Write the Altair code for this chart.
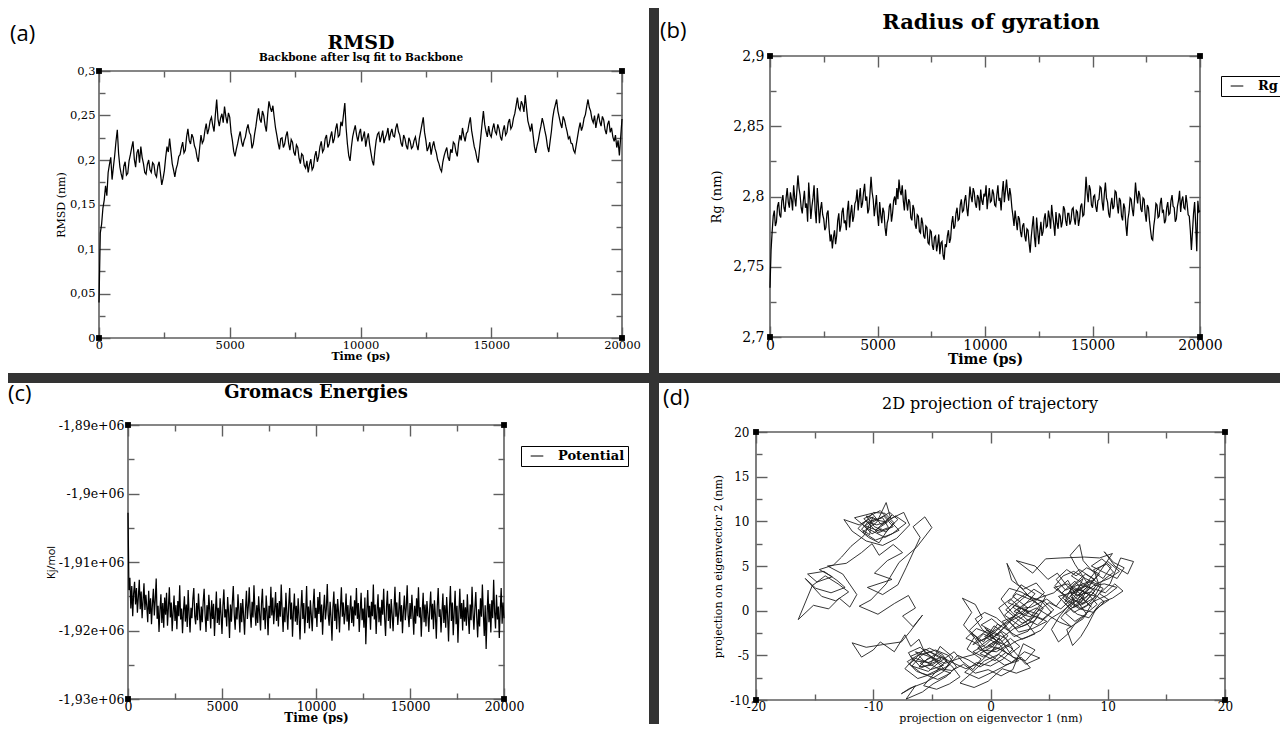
import altair as alt
import pandas as pd

SERIF = "DejaVu Serif"
SANS = "Open Sans"
FRAME = "#5f5f5f"
BAR = "#333333"
W, H = 1272, 716

# ---------------- data ----------------
rmsd_step_ps = 50
rmsd_nm = [
    0.040, 0.118, 0.128, 0.146, 0.155, 0.171, 0.160, 0.186, 0.195, 0.203, 0.178, 0.192, 0.205, 0.221, 0.234, 0.207, 0.192, 0.184, 0.178, 0.193,
    0.198, 0.183, 0.185, 0.199, 0.206, 0.214, 0.221, 0.201, 0.192, 0.208, 0.212, 0.197, 0.215, 0.203, 0.196, 0.186, 0.184, 0.195, 0.200, 0.189,
    0.186, 0.197, 0.195, 0.184, 0.181, 0.193, 0.198, 0.185, 0.172, 0.179, 0.188, 0.203, 0.215, 0.209, 0.224, 0.210, 0.196, 0.189, 0.181, 0.190,
    0.195, 0.204, 0.206, 0.214, 0.220, 0.208, 0.211, 0.226, 0.235, 0.222, 0.218, 0.229, 0.225, 0.216, 0.212, 0.203, 0.198, 0.214, 0.228, 0.219,
    0.222, 0.233, 0.241, 0.229, 0.235, 0.244, 0.248, 0.239, 0.232, 0.251, 0.268, 0.246, 0.238, 0.247, 0.252, 0.242, 0.260, 0.249, 0.241, 0.253,
    0.248, 0.231, 0.222, 0.210, 0.204, 0.212, 0.218, 0.226, 0.232, 0.221, 0.215, 0.222, 0.226, 0.235, 0.240, 0.231, 0.228, 0.213, 0.218, 0.229,
    0.238, 0.249, 0.258, 0.246, 0.242, 0.255, 0.250, 0.239, 0.232, 0.251, 0.266, 0.259, 0.254, 0.261, 0.248, 0.236, 0.228, 0.219, 0.212, 0.224,
    0.225, 0.214, 0.218, 0.227, 0.232, 0.219, 0.211, 0.223, 0.220, 0.209, 0.205, 0.217, 0.214, 0.202, 0.196, 0.207, 0.205, 0.194, 0.191, 0.199,
    0.186, 0.195, 0.201, 0.189, 0.192, 0.204, 0.210, 0.198, 0.204, 0.215, 0.221, 0.209, 0.212, 0.224, 0.228, 0.214, 0.218, 0.226, 0.232, 0.219,
    0.224, 0.235, 0.241, 0.226, 0.228, 0.243, 0.238, 0.251, 0.264, 0.236, 0.218, 0.205, 0.199, 0.214, 0.226, 0.233, 0.239, 0.228, 0.221, 0.230,
    0.235, 0.221, 0.226, 0.232, 0.215, 0.224, 0.230, 0.217, 0.208, 0.199, 0.194, 0.210, 0.222, 0.229, 0.231, 0.220, 0.226, 0.233, 0.219, 0.225,
    0.229, 0.236, 0.222, 0.230, 0.235, 0.227, 0.226, 0.236, 0.241, 0.232, 0.228, 0.219, 0.215, 0.228, 0.224, 0.216, 0.212, 0.225, 0.221, 0.213,
    0.215, 0.222, 0.226, 0.217, 0.211, 0.224, 0.232, 0.240, 0.248, 0.231, 0.222, 0.210, 0.214, 0.220, 0.206, 0.215, 0.221, 0.213, 0.208, 0.200,
    0.196, 0.190, 0.187, 0.198, 0.205, 0.210, 0.214, 0.203, 0.199, 0.212, 0.208, 0.220, 0.218, 0.209, 0.204, 0.219, 0.228, 0.222, 0.236, 0.227,
    0.221, 0.230, 0.232, 0.241, 0.248, 0.233, 0.224, 0.215, 0.210, 0.202, 0.197, 0.212, 0.226, 0.241, 0.255, 0.240, 0.232, 0.226, 0.238, 0.229,
    0.226, 0.235, 0.241, 0.232, 0.229, 0.240, 0.235, 0.226, 0.222, 0.233, 0.239, 0.228, 0.231, 0.242, 0.246, 0.235, 0.238, 0.247, 0.252, 0.261,
    0.270, 0.259, 0.256, 0.266, 0.262, 0.254, 0.273, 0.258, 0.244, 0.238, 0.232, 0.241, 0.228, 0.215, 0.208, 0.216, 0.222, 0.231, 0.238, 0.247,
    0.241, 0.233, 0.226, 0.215, 0.209, 0.221, 0.232, 0.247, 0.256, 0.262, 0.268, 0.255, 0.248, 0.241, 0.236, 0.249, 0.245, 0.238, 0.232, 0.224,
    0.226, 0.219, 0.218, 0.211, 0.208, 0.217, 0.226, 0.235, 0.242, 0.233, 0.238, 0.247, 0.251, 0.260, 0.268, 0.259, 0.255, 0.246, 0.242, 0.250,
    0.236, 0.245, 0.252, 0.243, 0.238, 0.249, 0.245, 0.234, 0.229, 0.240, 0.244, 0.231, 0.236, 0.226, 0.221, 0.228, 0.214, 0.222, 0.205, 0.226,
    0.246,
]

rg_step_ps = 50
rg_nm = [
    2.735, 2.762, 2.775, 2.786, 2.790, 2.779, 2.782, 2.793, 2.796, 2.787, 2.785, 2.797, 2.801, 2.792, 2.789, 2.799, 2.806, 2.796, 2.792, 2.803,
    2.798, 2.790, 2.808, 2.799, 2.793, 2.804, 2.815, 2.806, 2.801, 2.792, 2.788, 2.797, 2.804, 2.792, 2.795, 2.782, 2.810, 2.798, 2.784, 2.793,
    2.799, 2.808, 2.790, 2.781, 2.806, 2.794, 2.781, 2.791, 2.796, 2.787, 2.784, 2.776, 2.778, 2.788, 2.790, 2.777, 2.768, 2.773, 2.763, 2.771,
    2.776, 2.766, 2.772, 2.783, 2.788, 2.775, 2.779, 2.789, 2.792, 2.781, 2.783, 2.776, 2.790, 2.797, 2.778, 2.788, 2.794, 2.782, 2.786, 2.795,
    2.797, 2.805, 2.790, 2.799, 2.806, 2.792, 2.795, 2.803, 2.809, 2.797, 2.800, 2.788, 2.791, 2.802, 2.814, 2.803, 2.798, 2.786, 2.793, 2.801,
    2.787, 2.779, 2.796, 2.787, 2.781, 2.792, 2.789, 2.778, 2.772, 2.781, 2.784, 2.793, 2.795, 2.782, 2.788, 2.797, 2.800, 2.794, 2.806, 2.798,
    2.812, 2.804, 2.801, 2.808, 2.797, 2.790, 2.805, 2.796, 2.790, 2.798, 2.796, 2.785, 2.783, 2.794, 2.791, 2.780, 2.777, 2.787, 2.786, 2.775,
    2.774, 2.785, 2.781, 2.772, 2.770, 2.779, 2.778, 2.767, 2.766, 2.776, 2.775, 2.765, 2.762, 2.771, 2.772, 2.761, 2.766, 2.773, 2.759, 2.767,
    2.768, 2.758, 2.755, 2.766, 2.764, 2.772, 2.776, 2.767, 2.770, 2.781, 2.786, 2.777, 2.779, 2.788, 2.792, 2.783, 2.784, 2.794, 2.798, 2.789,
    2.790, 2.797, 2.801, 2.792, 2.786, 2.796, 2.807, 2.800, 2.796, 2.806, 2.803, 2.795, 2.792, 2.801, 2.799, 2.790, 2.805, 2.797, 2.794, 2.802,
    2.800, 2.808, 2.791, 2.799, 2.806, 2.796, 2.797, 2.805, 2.802, 2.794, 2.793, 2.801, 2.808, 2.797, 2.799, 2.790, 2.803, 2.811, 2.796, 2.804,
    2.812, 2.803, 2.797, 2.806, 2.801, 2.792, 2.786, 2.779, 2.790, 2.783, 2.776, 2.786, 2.784, 2.775, 2.771, 2.779, 2.781, 2.772, 2.768, 2.777,
    2.776, 2.767, 2.760, 2.771, 2.779, 2.786, 2.771, 2.764, 2.785, 2.776, 2.766, 2.775, 2.782, 2.772, 2.775, 2.784, 2.788, 2.778, 2.779, 2.790,
    2.785, 2.777, 2.794, 2.786, 2.780, 2.772, 2.789, 2.781, 2.777, 2.788, 2.786, 2.778, 2.782, 2.793, 2.791, 2.783, 2.779, 2.788, 2.788, 2.780,
    2.783, 2.791, 2.792, 2.784, 2.780, 2.790, 2.789, 2.779, 2.784, 2.793, 2.795, 2.786, 2.787, 2.799, 2.814, 2.803, 2.796, 2.808, 2.805, 2.794,
    2.792, 2.800, 2.801, 2.793, 2.789, 2.797, 2.798, 2.807, 2.806, 2.796, 2.790, 2.802, 2.810, 2.799, 2.796, 2.788, 2.785, 2.794, 2.799, 2.791,
    2.793, 2.804, 2.803, 2.794, 2.788, 2.799, 2.797, 2.786, 2.783, 2.795, 2.792, 2.780, 2.772, 2.784, 2.789, 2.799, 2.798, 2.791, 2.786, 2.797,
    2.810, 2.801, 2.795, 2.804, 2.801, 2.791, 2.789, 2.799, 2.798, 2.788, 2.782, 2.794, 2.792, 2.783, 2.776, 2.770, 2.769, 2.779, 2.785, 2.795,
    2.794, 2.785, 2.786, 2.795, 2.799, 2.789, 2.790, 2.781, 2.783, 2.792, 2.796, 2.787, 2.788, 2.797, 2.801, 2.793, 2.792, 2.782, 2.784, 2.793,
    2.797, 2.804, 2.789, 2.797, 2.800, 2.792, 2.791, 2.801, 2.795, 2.787, 2.786, 2.776, 2.762, 2.775, 2.788, 2.796, 2.780, 2.761, 2.797, 2.789,
    2.790,
]

pot_step_ps = 50
potential_kj_mol = [
    -1902800, -1914100, -1912300, -1916800, -1913500, -1917900, -1914600, -1912900, -1916200, -1913800,
    -1917400, -1915100, -1912600, -1916900, -1914300, -1918200, -1915600, -1913100, -1917000, -1914800,
    -1916500, -1918800, -1914200, -1917600, -1915300, -1919100, -1916100, -1913900, -1917800, -1915500,
    -1912400, -1918300, -1916400, -1920200, -1917100, -1914700, -1918900, -1916000, -1919600, -1915200,
    -1917700, -1914500, -1919300, -1916600, -1913700, -1918100, -1915900, -1920100, -1917300, -1914900,
    -1918600, -1916300, -1919800, -1915700, -1917900, -1913400, -1918400, -1916800, -1920400, -1917200,
    -1915000, -1918700, -1916200, -1919500, -1914100, -1917600, -1920300, -1916700, -1918200, -1915400,
    -1913800, -1917900, -1919100, -1916000, -1918500, -1914600, -1917300, -1920000, -1916500, -1918800,
    -1915800, -1913900, -1917700, -1920200, -1916300, -1918600, -1914800, -1917100, -1919700, -1915600,
    -1918300, -1916100, -1920800, -1917400, -1914300, -1918900, -1916700, -1919200, -1915300, -1917800,
    -1920500, -1916400, -1914000, -1918100, -1916900, -1919400, -1915100, -1917500, -1921100, -1916200,
    -1918700, -1915900, -1913500, -1917600, -1919900, -1916600, -1918400, -1914700, -1917200, -1920300,
    -1916000, -1918800, -1915400, -1917900, -1920600, -1916800, -1914200, -1918300, -1916500, -1913700,
    -1917400, -1919600, -1915800, -1918100, -1913400, -1917000, -1919300, -1916300, -1918900, -1915000,
    -1917600, -1920000, -1916100, -1913900, -1918500, -1916700, -1919800, -1914900, -1917300, -1920700,
    -1916400, -1918200, -1913600, -1917800, -1915200, -1919100, -1916900, -1914400, -1918600, -1916000,
    -1919400, -1915700, -1918000, -1913300, -1917100, -1920200, -1916600, -1918800, -1914500, -1917500,
    -1919900, -1916200, -1913800, -1918400, -1915900, -1920900, -1917200, -1914600, -1918700, -1916400,
    -1919200, -1915300, -1917900, -1921300, -1916800, -1914100, -1918300, -1916000, -1920400, -1917400,
    -1913500, -1918900, -1916500, -1919700, -1915600, -1917800, -1920100, -1916300, -1913900, -1918200,
    -1916700, -1919500, -1915100, -1917600, -1914400, -1918800, -1916200, -1920600, -1917000, -1914800,
    -1918400, -1916900, -1913200, -1917700, -1919300, -1915800, -1918100, -1921500, -1916600, -1914300,
    -1918600, -1916100, -1919800, -1915400, -1917300, -1920300, -1916700, -1913700, -1918000, -1915900,
    -1919100, -1917500, -1914600, -1918700, -1916300, -1920000, -1917100, -1914900, -1918900, -1916500,
    -1919400, -1915600, -1917800, -1913800, -1918300, -1916000, -1920200, -1917200, -1914500, -1918500,
    -1916800, -1919600, -1915200, -1922000, -1917400, -1914100, -1918100, -1916400, -1919900, -1915800,
    -1917900, -1913300, -1918400, -1916200, -1920500, -1917000, -1914700, -1918800, -1916600, -1919300,
    -1915500, -1917700, -1913900, -1918200, -1920800, -1916500, -1914200, -1918600, -1916100, -1919700,
    -1915400, -1917600, -1920100, -1916900, -1913600, -1918000, -1915900, -1919200, -1917300, -1914400,
    -1918700, -1916300, -1920400, -1917100, -1914900, -1918500, -1916700, -1913400, -1917800, -1919500,
    -1916000, -1918300, -1914800, -1917500, -1920600, -1916400, -1919000, -1915300, -1917900, -1913700,
    -1918100, -1916600, -1920900, -1917200, -1914500, -1918800, -1916200, -1919400, -1915700, -1917600,
    -1920200, -1916800, -1914300, -1918400, -1916100, -1919800, -1915600, -1917700, -1921200, -1916500,
    -1913800, -1918000, -1916900, -1920300, -1917400, -1914600, -1918900, -1916300, -1919600, -1915100,
    -1917800, -1921600, -1916700, -1913500, -1918600, -1915900, -1920700, -1917300, -1914200, -1919100,
    -1916400, -1921800, -1917600, -1913900, -1918300, -1916000, -1920000, -1915500, -1918700, -1916600,
    -1919300, -1914700, -1917900, -1920500, -1916200, -1918500, -1913600, -1917400, -1919900, -1916800,
    -1914400, -1918100, -1921000, -1916900, -1919400, -1915300, -1918000, -1913300, -1917500, -1920800,
    -1916300, -1922700, -1917700, -1914100, -1918800, -1916100, -1920300, -1915600, -1918200, -1912600,
    -1917300, -1919700, -1914800, -1918400, -1916500, -1921100, -1917000, -1913800, -1919000, -1915900,
    -1918200,
]

# (projection on eigenvector 1, projection on eigenvector 2), in frame order
trajectory_nm = [
    (-9.3, 9.2), (-10.1, 8.6), (-10.9, 9.6), (-10.0, 11.0), (-9.0, 10.9), (-8.2, 9.8), (-8.9, 8.8), (-9.9, 9.4), (-10.6, 10.6), (-9.6, 10.2),
    (-8.6, 11.0), (-7.9, 10.2), (-8.7, 9.2), (-9.5, 7.6), (-10.4, 8.2), (-11.3, 9.2), (-10.7, 10.0), (-9.7, 9.6), (-9.0, 9.9), (-8.4, 10.7),
    (-9.8, 9.0), (-8.8, 9.9), (-9.9, 10.2), (-10.7, 9.5), (-9.5, 8.9), (-8.7, 9.3), (-9.2, 10.4), (-10.4, 10.0), (-11.0, 9.1), (-10.3, 8.5),
    (-10.2, 9.8), (-9.1, 10.6), (-8.3, 9.4), (-9.6, 8.7), (-10.8, 10.3), (-9.4, 11.2), (-8.6, 10.1), (-7.8, 9.0), (-9.0, 8.2), (-10.5, 9.2),
    (-11.6, 10.4), (-10.1, 10.9), (-9.3, 9.6), (-8.1, 10.6), (-7.2, 9.8), (-8.4, 8.6), (-9.8, 7.9), (-10.9, 8.8), (-9.7, 9.9), (-8.9, 12.1),
    (-8.5, 10.3), (-7.4, 11.0), (-6.9, 9.6), (-8.0, 8.1), (-9.2, 7.3), (-10.6, 7.8), (-11.8, 8.9), (-12.5, 10.2), (-11.2, 9.6), (-10.0, 10.5),
    (-10.8, 8.4), (-11.9, 7.2), (-12.7, 6.0), (-13.4, 5.1), (-14.6, 4.6), (-13.5, 3.8), (-14.8, 3.2), (-15.6, 4.1), (-14.2, 4.4), (-13.1, 3.4),
    (-12.4, 2.6), (-13.6, 2.0), (-14.9, 2.5), (-15.8, 3.6), (-14.4, 1.6), (-13.2, 1.1), (-12.1, 2.1), (-13.0, 3.0), (-14.1, 3.9), (-15.2, 2.8),
    (-16.4, -1.0), (-15.1, 0.6), (-13.8, 0.2), (-12.9, 1.4), (-12.0, 0.4), (-11.4, 1.8), (-12.6, 4.1), (-13.9, 5.0), (-12.3, 5.3), (-11.0, 6.5),
    (-10.1, 7.5), (-9.5, 6.2), (-8.3, 7.4), (-7.5, 6.5), (-8.8, 5.6), (-9.9, 4.2), (-8.4, 3.5), (-10.5, 2.6), (-9.2, 1.8), (-7.9, 2.9),
    (-7.2, 4.8), (-6.5, 6.8), (-6.0, 8.2), (-6.6, 9.4), (-5.6, 10.5), (-5.0, 9.3), (-6.3, 7.1), (-7.8, 5.4), (-8.9, 3.0), (-10.2, 1.2),
    (-11.2, 0.5), (-9.6, -0.4), (-8.2, 0.8), (-7.0, 1.7), (-6.4, 0.3), (-7.5, -0.6), (-6.6, -1.8), (-5.8, -0.5), (-6.9, -2.4), (-7.6, -3.5),
    (-9.2, -3.8), (-10.6, -4.1), (-11.8, -3.6), (-11.0, -5.2), (-10.0, -4.4), (-9.4, -3.5), (-8.2, -4.6), (-7.3, -2.7), (-6.8, -4.0), (-6.1, -3.2),
    (-5.6, -4.7), (-4.5, -5.6), (-5.9, -6.4), (-6.8, -5.1), (-5.2, -4.2), (-4.1, -4.9), (-3.5, -6.1), (-4.8, -7.0), (-6.2, -7.6), (-7.3, -6.5),
    (-6.5, -5.3), (-5.1, -5.9), (-4.3, -4.0), (-3.2, -5.2), (-4.0, -6.8), (-5.5, -8.0), (-6.9, -8.7), (-7.6, -9.3), (-6.4, -8.4), (-7.2, -9.9),
    (-5.8, -9.1), (-4.9, -8.2), (-3.8, -7.4), (-2.9, -6.3), (-3.6, -5.0), (-4.7, -4.4), (-5.9, -5.0), (-6.7, -6.2), (-5.3, -6.8), (-4.4, -5.8),
    (-3.1, -4.6), (-2.4, -5.7), (-1.5, -6.6), (-0.8, -5.4), (-2.0, -4.3), (-1.4, -3.0), (-2.3, -1.6), (-1.6, -0.2), (-2.4, 1.4), (-1.3, 0.7),
    (-0.7, -0.8), (-1.8, -2.2), (-0.9, -3.4), (0.2, -2.6), (-0.5, -1.9),
    (0.6, -3.5), (-0.4, -4.2), (-1.2, -3.1), (-0.3, -2.2), (0.8, -2.9), (0.2, -4.0), (-0.9, -4.8), (0.4, -5.6), (1.3, -4.7), (0.5, -3.3),
    (-0.6, -2.6), (-1.5, -3.8), (-0.2, -3.0), (0.9, -1.8), (0.1, -0.9), (-0.8, -1.6), (0.3, -2.4), (1.4, -3.2), (1.9, -4.3), (1.1, -5.4),
    (0.0, -6.2), (-1.2, -5.8), (-2.2, -6.9), (-1.0, -7.6), (0.3, -6.8), (1.5, -6.0), (2.6, -5.2), (3.4, -6.4), (2.2, -7.0), (1.0, -6.5),
    (-0.2, -7.9), (-1.4, -8.6), (-2.6, -8.1), (-1.8, -7.2), (-0.5, -5.6), (0.7, -4.9), (1.8, -5.8), (2.9, -4.6), (4.2, -5.3), (3.0, -6.0),
    (1.7, -4.1), (0.8, -3.6), (-0.1, -2.8), (0.6, -1.5), (1.5, -2.2),
    (2.4, -1.0), (3.3, -0.2), (2.1, 0.6), (1.2, -0.5), (2.6, -1.8), (3.8, -1.1), (4.5, 0.3), (3.5, 1.2), (2.2, 1.9), (1.5, 0.9),
    (2.9, 0.1), (4.1, -0.4), (3.2, -2.3), (2.0, -2.9), (1.1, -1.6), (2.5, -0.6), (3.6, 0.8), (4.6, 2.0), (3.9, 3.1), (2.8, 2.4),
    (1.8, 3.4), (1.4, 5.3), (2.3, 3.0), (3.3, 1.6), (4.4, 1.0), (5.2, -0.2), (4.0, -1.6), (3.0, -0.9), (2.3, 0.2), (3.5, 0.4),
    (4.8, 1.3), (5.6, 0.5), (6.3, 1.7), (5.4, 2.6), (6.6, 3.0), (7.4, 2.1), (6.8, 0.8), (5.9, -0.6), (5.2, -2.1), (5.8, -3.5),
    (6.6, -2.6), (7.3, -1.3), (8.2, -0.4), (7.5, 0.9), (8.4, 1.8),
    (7.1, 2.6), (6.2, 1.4), (7.0, 0.3), (8.1, 1.0), (8.9, 2.2), (7.8, 3.1), (6.9, 3.9), (7.6, 4.6), (8.6, 3.7), (9.4, 2.8),
    (8.8, 1.4), (7.7, 0.6), (6.8, 1.6), (7.5, 2.4), (8.3, 1.9), (9.1, 0.7), (8.0, -0.5), (7.2, -1.2), (6.4, -0.3), (7.4, 0.8),
    (8.5, 2.6), (7.2, 5.2), (6.8, 6.2), (7.6, 7.4), (7.9, 5.6), (8.7, 4.4), (9.6, 3.6), (10.3, 4.9), (9.5, 5.8), (8.6, 5.0),
    (9.8, 4.2), (10.8, 3.6), (11.4, 4.8), (10.5, 5.4), (9.7, 6.6), (10.6, 5.0), (11.7, 4.1), (12.2, 5.5), (11.1, 5.9), (10.2, 3.0),
    (9.3, 1.9), (10.1, 1.2), (9.0, 0.2), (8.3, -1.6), (7.7, -2.9), (7.0, -3.9), (6.5, -2.1), (7.9, -0.9), (8.7, 0.9), (9.6, 2.5),
    (8.4, 3.2), (7.3, 2.0), (6.5, 2.8), (5.7, 4.2), (4.9, 3.5), (3.8, 5.0), (2.2, 5.6), (3.6, 4.2), (4.7, 5.8), (6.0, 5.9),
    (8.0, 6.0), (9.3, 5.9), (10.4, 6.4), (9.4, 4.5), (8.2, 2.3), (7.4, 1.3), (6.7, 2.2), (7.8, 1.5), (8.6, 0.4), (7.5, 1.8),
    (8.3, 2.7), (7.0, 1.1), (6.1, 2.0), (7.2, 3.3), (8.0, 2.0), (9.0, 1.6), (8.2, 0.6), (7.1, -0.2), (6.3, 0.9), (7.7, 2.9),
    (8.9, 3.5), (8.1, 4.1), (7.0, 2.8), (6.4, 1.2), (7.6, 0.2), (8.8, -0.2), (9.7, 1.0), (8.6, 2.1), (7.3, 1.7), (6.6, 3.4),
    (5.4, 2.0), (4.3, 1.5), (3.1, 0.9), (2.0, -0.1), (3.4, -0.7), (4.2, 0.6), (3.0, 1.9), (2.1, 1.0), (1.3, 0.1), (2.7, -1.4),
    (3.9, -0.6), (4.8, -1.2), (3.6, -2.0), (2.4, -2.4), (1.6, -1.2), (2.8, 0.5), (3.8, 1.9), (2.6, 2.9), (1.9, 1.6), (3.2, 0.3),
    (1.8, -0.8), (0.6, -2.0), (-0.5, -2.9), (0.7, -3.8), (1.5, -2.8), (0.3, -1.7), (-0.6, -3.5), (-1.6, -2.5), (-0.7, -4.4), (0.5, -4.6),
    (1.6, -3.7), (0.9, -2.4), (-0.3, -3.4), (-1.1, -4.2), (0.0, -5.0), (1.2, -6.1), (2.4, -5.6), (1.0, -4.4), (-0.2, -3.9), (0.8, -3.1),
    (-1.4, -4.9), (-2.8, -5.4), (-3.9, -5.9), (-5.0, -5.2), (-6.0, -5.9), (-5.1, -6.6), (-4.0, -6.1), (-5.3, -5.1), (-6.4, -4.6), (-5.7, -5.6),
    (-4.6, -6.4), (-3.4, -7.0), (-4.5, -7.7), (-5.9, -7.0), (-6.9, -6.0), (-5.6, -4.3), (-4.4, -5.1), (-3.1, -5.9), (-2.1, -6.5), (-1.0, -5.9),
    (0.1, -4.5), (1.0, -3.0), (2.0, -2.0), (3.1, -1.2), (4.0, -0.1), (5.0, 0.9), (6.0, 0.2), (6.9, 1.3), (7.9, 0.8), (8.7, 1.9),
    (9.5, 3.3), (10.5, 4.3), (9.9, 5.2), (8.8, 4.6), (9.2, 3.1), (8.1, 1.4), (7.2, 0.4), (6.8, 2.5), (7.9, 3.6), (7.4, 2.2),
    (8.5, 3.0), (9.3, 4.1), (8.2, 4.8), (7.3, 3.9), (6.5, 4.6), (5.6, 3.5), (6.4, 2.3), (7.5, 2.9), (8.7, 2.5), (9.8, 2.0),
    (10.6, 3.0), (11.3, 2.2), (10.4, 1.4), (9.4, 0.9), (8.4, -0.8), (7.4, -0.4), (6.5, 0.6), (5.8, 1.6), (6.9, 2.0), (8.0, 2.8),
    (9.1, 4.6), (10.0, 5.5), (11.0, 4.4), (10.1, 3.6), (9.0, 3.0), (8.1, 3.6), (7.1, 4.4), (6.2, 3.9), (5.5, 2.8), (6.7, 1.1),
    (7.8, 0.2), (8.9, 1.1), (9.9, 1.7), (10.8, 2.6), (9.7, 3.0), (8.8, 2.8), (7.9, 1.9), (6.9, 0.6), (6.0, -0.8), (6.9, -1.8),
    (5.9, -1.3), (4.9, -0.5), (3.9, 0.3), (2.8, -0.4), (1.9, 0.4), (2.7, 1.3), (3.7, 2.4), (4.7, 1.6), (4.1, 0.1), (3.2, -1.5),
    (2.2, -2.0), (1.3, -0.9), (0.7, 0.3), (1.7, 1.3), (2.5, 0.4), (3.5, -0.5), (4.4, -1.0), (5.4, 0.1), (4.6, 1.0), (3.6, 1.4),
    (2.6, 2.1), (1.6, 2.5), (0.9, 1.3), (1.9, -0.3), (2.9, -1.1), (3.8, -2.6), (2.7, -3.2), (1.8, -2.5), (1.0, -1.2), (2.1, -0.6),
    (1.1, -2.0), (0.2, -3.1), (-0.7, -2.1), (-1.3, -0.9), (-0.5, -0.2), (0.5, -0.8), (1.3, -1.7), (0.4, -2.8), (-0.4, -3.8), (-1.5, -4.6),
    (-0.6, -5.2), (0.5, -4.1), (1.6, -4.9), (2.5, -4.0), (1.7, -3.1), (0.8, -4.1), (-0.3, -4.8), (-1.3, -3.6), (-2.1, -3.1), (-1.2, -2.0),
    (-0.2, -2.5), (0.9, -3.3), (1.9, -5.2), (3.0, -5.6), (3.8, -4.4), (2.8, -3.7), (1.9, -6.6), (0.9, -7.3), (-0.2, -6.6), (-1.3, -7.0),
    (-2.3, -6.0), (-3.3, -6.7), (-4.3, -6.5), (-5.4, -7.2), (-6.3, -6.8), (-7.1, -5.7), (-6.2, -5.0), (-5.2, -4.6), (-4.2, -5.4), (-5.0, -6.1),
    (-6.1, -6.3), (-5.4, -5.4), (-4.5, -4.8), (-3.7, -5.5), (-4.7, -6.9), (-5.7, -8.4), (-4.6, -8.8), (-3.5, -8.2), (-2.6, -7.4), (-3.3, -6.2),
    (-4.2, -5.2), (-5.3, -5.8), (-6.6, -5.6), (-7.0, -4.7), (-6.0, -4.1), (-5.1, -5.1), (-3.9, -6.6), (-2.8, -5.0), (-1.9, -5.5), (-0.9, -6.3),
    (0.2, -5.5), (1.2, -4.2), (2.2, -3.4), (3.2, -2.9), (4.3, -2.2), (5.1, -0.9), (6.1, -0.1), (7.0, 0.9), (8.0, 1.5), (7.2, 2.4),
]

# ---------------- tick values ----------------
time_ticks = [0, 5000, 10000, 15000, 20000]
time_minor = [2500, 7500, 12500, 17500]
rmsd_ticks = [0, 0.05, 0.1, 0.15, 0.2, 0.25, 0.3]
rmsd_minor = [0.025, 0.075, 0.125, 0.175, 0.225, 0.275]
rg_ticks = [2.7, 2.75, 2.8, 2.85, 2.9]
rg_minor = [2.725, 2.775, 2.825, 2.875]
pot_ticks = [-1930000, -1920000, -1910000, -1900000, -1890000]
pot_minor = [-1925000, -1915000, -1905000, -1895000]
pc1_ticks = [-20, -10, 0, 10, 20]
pc1_minor = [-15, -5, 5, 15]
pc2_ticks = [-10, -5, 0, 5, 10, 15, 20]
pc2_minor = [-7.5, -2.5, 2.5, 7.5, 12.5, 17.5]

# ---------------- tables ----------------
df_rmsd = pd.DataFrame({"time": [i * rmsd_step_ps for i in range(len(rmsd_nm))], "val": rmsd_nm})
df_rg = pd.DataFrame({"time": [i * rg_step_ps for i in range(len(rg_nm))], "val": rg_nm, "series": "Rg"})
df_pot = pd.DataFrame({"time": [i * pot_step_ps for i in range(len(potential_kj_mol))],
                       "val": potential_kj_mol, "series": "Potential"})
df_traj = pd.DataFrame({"step": list(range(len(trajectory_nm))),
                        "pc1": [p[0] for p in trajectory_nm],
                        "pc2": [p[1] for p in trajectory_nm]})

COMMA = "replace(format(datum.value, '~g'), '.', ',')"
TIME = "format(datum.value, 'd')"
ENERGY = "'-' + replace(replace(format(-datum.value, '~e'), '.', ','), 'e+6', 'e+06')"
SIGNED = "(datum.value < 0 ? '-' : '') + format(abs(datum.value), '~g')"

MAJOR, MINOR = 11, 6


def panel_layers(df, xf, yf, box, xdom, ydom, xt, xm, yt, ym, xexpr, yexpr, lab_size,
                 xtitle, xt_size, xt_weight, ytitle, yt_size, yt_font,
                 line_color="black", line_width=1.0, color=None, order=None,
                 x_title_pad=0, y_title_pad=4, ylab_pad=4):
    x0, x1, y0, y1 = box

    def xs():
        return alt.Scale(domain=xdom, range=[x0, x1], nice=False, zero=False)

    def ys():
        return alt.Scale(domain=ydom, range=[y1, y0], nice=False, zero=False)

    xaxis = alt.Axis(orient="bottom", offset=y1 - H, values=xt, labelExpr=xexpr, ticks=False, tickSize=0,
                     domain=False, grid=False, labelFont=SERIF, labelFontSize=lab_size,
                     labelColor="black", labelPadding=1, labelFlush=False, labelOverlap=False,
                     title=xtitle, titleFont=SERIF, titleFontSize=xt_size, titleFontWeight=xt_weight,
                     titleColor="black", titlePadding=x_title_pad)
    yaxis = alt.Axis(orient="left", offset=-x0, values=yt, labelExpr=yexpr, ticks=False, tickSize=0,
                     domain=False, grid=False, labelFont=SERIF, labelFontSize=lab_size,
                     labelColor="black", labelPadding=ylab_pad, labelOverlap=False,
                     title=ytitle, titleFont=yt_font, titleFontSize=yt_size, titleFontWeight="normal",
                     titleColor="black", titlePadding=y_title_pad)
    enc = dict(x=alt.X(f"{xf}:Q", scale=xs(), axis=xaxis),
               y=alt.Y(f"{yf}:Q", scale=ys(), axis=yaxis))
    if color is not None:
        enc["color"] = color
    if order is not None:
        enc["order"] = order
    line = alt.Chart(df).mark_line(color=line_color, strokeWidth=line_width).encode(**enc)

    def tax(orient, vals, s):
        if orient == "bottom":
            off = y1 - s - H
        elif orient == "top":
            off = -(y0 + s)
        elif orient == "left":
            off = -(x0 + s)
        else:
            off = x1 - s - W
        return alt.Axis(orient=orient, values=vals, tickSize=s, offset=off, labels=False,
                        domain=False, grid=False, title=None, tickColor=FRAME, tickWidth=1.4)

    frame_df = pd.DataFrame({"xa": [xdom[0]], "xb": [xdom[1]], "ya": [ydom[0]], "yb": [ydom[1]]})
    corners = pd.DataFrame({"cx": [xdom[0], xdom[1], xdom[0], xdom[1]],
                            "cy": [ydom[0], ydom[0], ydom[1], ydom[1]]})
    frame = (alt.Chart(frame_df).mark_rect(fillOpacity=0, stroke=FRAME, strokeWidth=1.6)
             .encode(x=alt.X("xa:Q", scale=xs(), axis=tax("bottom", xt, MAJOR)), x2="xb:Q",
                     y=alt.Y("ya:Q", scale=ys(), axis=tax("left", yt, MAJOR)), y2="yb:Q"))
    squares = (alt.Chart(corners).mark_square(size=34, color="black", opacity=1)
               .encode(x=alt.X("cx:Q", scale=xs(), axis=tax("bottom", xm, MINOR)),
                       y=alt.Y("cy:Q", scale=ys(), axis=tax("left", ym, MINOR))))
    top_major = (alt.Chart(corners).mark_point(opacity=0)
                 .encode(x=alt.X("cx:Q", scale=xs(), axis=tax("top", xt, MAJOR)),
                         y=alt.Y("cy:Q", scale=ys(), axis=tax("right", yt, MAJOR))))
    top_minor = (alt.Chart(corners).mark_point(opacity=0)
                 .encode(x=alt.X("cx:Q", scale=xs(), axis=tax("top", xm, MINOR)),
                         y=alt.Y("cy:Q", scale=ys(), axis=tax("right", ym, MINOR))))
    return [frame, line, squares, top_major, top_minor]


def legend_color(lx, ly):
    return alt.Color("series:N", scale=alt.Scale(range=["black"]),
                     legend=alt.Legend(orient="none", legendX=lx, legendY=ly, title=None,
                                       symbolType="stroke", symbolStrokeWidth=1, symbolSize=160,
                                       symbolStrokeColor="black", symbolOffset=6,
                                       labelFont=SERIF, labelFontSize=13, labelFontWeight="bold",
                                       labelColor="black", labelOffset=14,
                                       strokeColor="black", padding=3, fillColor="white"))


# plot-area boxes in chart pixels: (left, right, top, bottom)
BOX_A = (91, 614, 63, 330)
BOX_B = (762, 1192, 48, 329)
BOX_C = (120, 496, 417, 691)
BOX_D = (748, 1217, 424, 692)

layers_a = panel_layers(df_rmsd, "time", "val", BOX_A, [0, 20000], [0, 0.3], time_ticks, time_minor,
                        rmsd_ticks, rmsd_minor, TIME, COMMA, 11.5, "Time (ps)", 11, "bold",
                        "RMSD (nm)", 11, SERIF, y_title_pad=3, line_width=1.25)
layers_b = panel_layers(df_rg, "time", "val", BOX_B, [0, 20000], [2.7, 2.9], time_ticks, time_minor,
                        rg_ticks, rg_minor, TIME, COMMA, 14, "Time (ps)", 14, "bold",
                        "Rg (nm)", 13, SERIF, color=legend_color(1213, 68), y_title_pad=9, ylab_pad=6,
                        line_width=1.25)
layers_c = panel_layers(df_pot, "time", "val", BOX_C, [0, 20000], [-1930000, -1890000], time_ticks, time_minor,
                        pot_ticks, pot_minor, TIME, ENERGY, 12.5, "Time (ps)", 12, "bold",
                        "Kj/mol", 11, SANS, color=legend_color(513, 438), y_title_pad=2,
                        x_title_pad=0, line_width=1.25)
layers_d = panel_layers(df_traj, "pc1", "pc2", BOX_D, [-20, 20], [-10, 20], pc1_ticks, pc1_minor,
                        pc2_ticks, pc2_minor, SIGNED, SIGNED, 12,
                        "projection on eigenvector 1 (nm)", 11, "normal",
                        "projection on eigenvector 2 (nm)", 11, SERIF,
                        line_color="#1f1f1f", line_width=0.9, order=alt.Order("step:Q"),
                        y_title_pad=6, ylab_pad=7, x_title_pad=0)

# ---------------- decorations: dividers, panel letters, titles ----------------
dummy = pd.DataFrame({"k": [0]})


def text_at(txt, x, y, size, font=SERIF, weight="normal", align="center"):
    return (alt.Chart(dummy).mark_text(text=txt, font=font, fontSize=size, fontWeight=weight,
                                       align=align, baseline="middle", color="black")
            .encode(x=alt.value(x), y=alt.value(y)))


vbar = alt.Chart(dummy).mark_rect(color=BAR).encode(x=alt.value(641), x2=alt.value(651),
                                                    y=alt.value(0), y2=alt.value(H))
hbar = alt.Chart(dummy).mark_rect(color=BAR).encode(x=alt.value(0), x2=alt.value(W),
                                                    y=alt.value(365), y2=alt.value(375))
decor = [
    vbar, hbar,
    text_at("(a)", 2, 26, 22, SANS, align="left"),
    text_at("(b)", 652, 23, 22, SANS, align="left"),
    text_at("(c)", 0, 386, 22, SANS, align="left"),
    text_at("(d)", 655, 390, 22, SANS, align="left"),
    text_at("RMSD", 353, 35, 19, weight="bold"),
    text_at("Backbone after lsq fit to Backbone", 353, 50, 10.5, weight="bold"),
    text_at("Radius of gyration", 983, 15, 21, weight="bold"),
    text_at("Gromacs Energies", 308, 385, 18, weight="bold"),
    text_at("2D projection of trajectory", 982, 396, 16),
]

chart = (alt.layer(*decor, *layers_a, *layers_b, *layers_c, *layers_d)
         .resolve_scale(x="independent", y="independent", color="independent")
         .resolve_axis(x="independent", y="independent")
         .resolve_legend(color="independent")
         .properties(width=W, height=H, padding=0, background="white",
                     autosize=alt.AutoSizeParams(type="none"))
         .configure_view(stroke=None))

chart.save("out.html", embed_options={"renderer": "svg", "actions": False})
